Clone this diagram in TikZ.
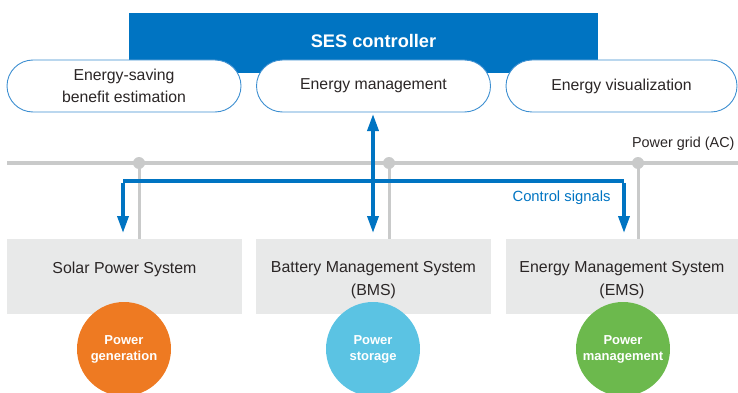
\documentclass[tikz,border=0pt]{standalone}
\usepackage{fontspec}
\setmainfont{Liberation Sans}
\usetikzlibrary{arrows.meta}
\definecolor{sesblue}{HTML}{0074C2}
\definecolor{pillline}{HTML}{3D8FD1}
\definecolor{gridgrey}{HTML}{C9CACA}
\definecolor{boxgrey}{HTML}{E8E9E9}
\definecolor{txt}{HTML}{2B2626}
\definecolor{cgen}{HTML}{EE7A22}
\definecolor{cstore}{HTML}{5BC3E3}
\definecolor{cmgmt}{HTML}{6CB94D}
\tikzset{
  pill/.style={draw=pillline, line width=0.9pt, fill=white, rounded corners=26pt,
    minimum width=234pt, minimum height=52pt, align=center, text=txt,
    font=\fontsize{15.8}{22}\selectfont, inner sep=0pt},
  sysbox/.style={fill=boxgrey, minimum width=235pt, minimum height=75pt,
    inner sep=0pt},
  systext/.style={align=center, text=txt, font=\fontsize{15.9}{23}\selectfont},
  role/.style={circle, minimum size=94pt, inner sep=0pt, align=center, text=white,
    font=\bfseries\fontsize{13}{16}\selectfont},
  grid/.style={gridgrey, line width=4pt},
  tap/.style={gridgrey, line width=3pt},
  gridpt/.style={circle, fill=gridgrey, minimum size=12pt, inner sep=0pt},
  ctrl/.style={sesblue, line width=3.5pt,
    -{Triangle[width=11pt,length=17pt]}},
  ctrlboth/.style={sesblue, line width=3.5pt,
    {Triangle[width=11pt,length=17pt]}-{Triangle[width=11pt,length=17pt]}},
}
\begin{document}
\begin{tikzpicture}[x=1pt,y=-1pt]
\useasboundingbox (0,0) rectangle (738,393);

% controller banner
\node[fill=sesblue, minimum width=469pt, minimum height=60pt, inner sep=0pt,
  anchor=north west] (ses) at (129,13) {};
\node[text=white, font=\bfseries\fontsize{18.2}{20}\selectfont] (sestitle) at (373.5,41) {SES controller};

% controller functions
\node[pill] (est) at (124,86) {Energy-saving\\benefit estimation};
\node[pill] (mgmt) at (373.5,86) {Energy management};
\node[pill, minimum width=231pt] (vis) at (621.5,86) {Energy visualization};

% subsystems
\node[sysbox] (solar) at (124.5,276.5) {};
\node[sysbox] (bms) at (373.5,276.5) {};
\node[sysbox, minimum width=232pt] (ems) at (622,276.5) {};
\node[systext, anchor=north] (solart) at (124.5,258) {Solar Power System};
\node[systext, anchor=north] (bmst) at (373.5,258) {Battery Management System\\(BMS)};
\node[systext, anchor=north] (emst) at (622,258) {Energy Management System\\(EMS)};

% power grid bus and taps
\coordinate (gw) at (7,163);
\coordinate (ge) at (738,163);
\draw[grid] (gw) -- (ge);
\node[gridpt] (p1) at (139,163) {};
\node[gridpt] (p2) at (389,163) {};
\node[gridpt] (p3) at (638,163) {};
\draw[tap] (p1.center) -- (p1 |- solar.north);
\draw[tap] (p2.center) -- (p2 |- bms.north);
\draw[tap] (p3.center) -- (p3 |- ems.north);
\node[text=txt, anchor=east, font=\fontsize{14.4}{16}\selectfont] (gridlbl) at (738,144) {Power grid (AC)};

% control signal paths
\coordinate (cl) at (123,181);
\coordinate (cr) at (624,181);
\coordinate (cltip) at (123,233);
\coordinate (crtip) at (624,233);
\draw[sesblue, line width=3.5pt] (cl) -- (cr);
\draw[ctrl] ([yshift=-1.75pt]cl) -- (cltip);
\draw[ctrl] ([yshift=-1.75pt]cr) -- (crtip);
\coordinate (mtop) at (373,114);
\coordinate (mbot) at (373,233);
\draw[ctrlboth] (mtop) -- (mbot);
\node[text=sesblue, anchor=east, font=\fontsize{14.8}{16}\selectfont] (ctrllbl) at (614,198) {Control signals};

% roles
\node[role, fill=cgen] (gen) at (124,349) {Power\\generation};
\node[role, fill=cstore] (store) at (373,349) {Power\\storage};
\node[role, fill=cmgmt] (pm) at (623,349) {Power\\management};
\end{tikzpicture}
\end{document}
